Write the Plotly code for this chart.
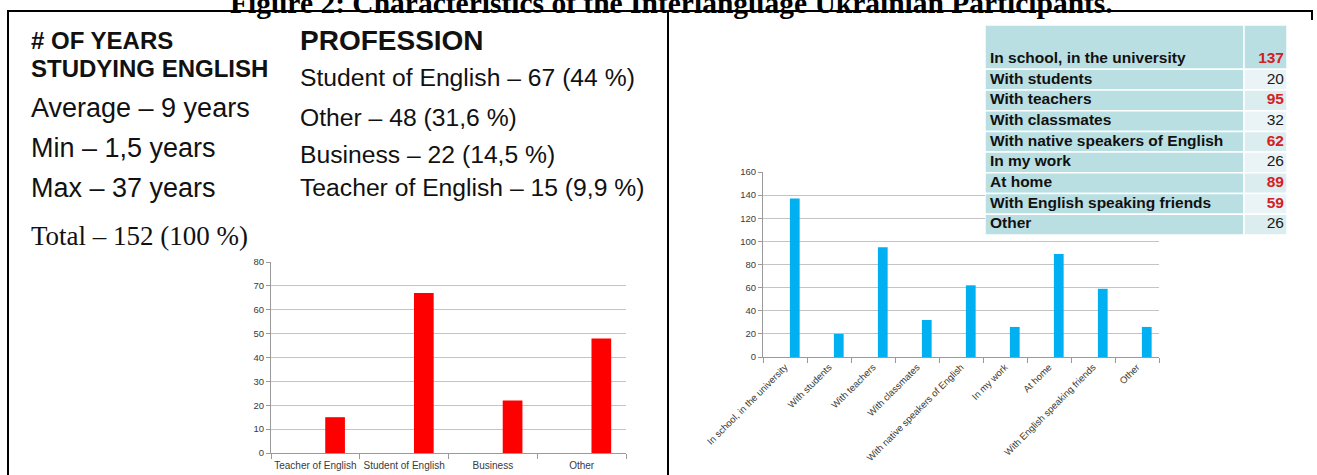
import plotly.graph_objects as go

W, H = 1317, 475

# ---------------- data ----------------
profession_categories = ["Teacher of English", "Student of English", "Business", "Other"]
profession_counts = [15, 67, 22, 48]

place_categories = [
    "In school, in the university", "With students", "With teachers", "With classmates",
    "With native speakers of English", "In my work", "At home",
    "With English speaking friends", "Other",
]
place_counts = [137, 20, 95, 32, 62, 26, 89, 59, 26]
place_highlight = [True, False, True, False, True, False, True, True, False]

years_heading = ["# OF YEARS", "STUDYING ENGLISH"]
years_stats = ["Average – 9 years", "Min – 1,5 years", "Max – 37 years"]
total_text = "Total – 152 (100 %)"
profession_heading = "PROFESSION"
profession_lines = [
    "Student of English – 67 (44 %)",
    "Other – 48 (31,6 %)",
    "Business – 22 (14,5 %)",
    "Teacher of English – 15 (9,9 %)",
]
title_text = "Figure 2: Characteristics of the Interlanguage Ukrainian Participants."


def fx(p):
    return p / W


def fy(p):
    return 1 - p / H


fig = go.Figure()

# left bar chart (profession)
fig.add_trace(go.Bar(
    x=profession_categories, y=profession_counts,
    marker=dict(color="#ff0000", line=dict(width=0)),
    width=0.222, offset=0.111,
    xaxis="x", yaxis="y", showlegend=False, hoverinfo="skip",
))

# right bar chart (where English is used)
fig.add_trace(go.Bar(
    x=place_categories, y=place_counts,
    marker=dict(color="#00b0f0", line=dict(width=0)),
    width=0.222, offset=0.111,
    xaxis="x2", yaxis="y2", showlegend=False, hoverinfo="skip",
))

# ---------------- table drawn on its own axes ----------------
label_col_w, num_col_w = 259, 43          # column widths (table units)
header_h, row_h = 44.3, 20.7              # row heights (table units)
n = len(place_categories)
row_heights = [header_h] + [row_h] * (n - 1)
row_centers = []
acc = 0.0
for h in row_heights:
    row_centers.append(acc + h / 2)
    acc += h
table_h = acc

label_fill = ["#b9dfe3"] * n
num_fill = ["#b9dfe3"] + [("#eaf4f6" if i % 2 == 0 else "#dcedf0") for i in range(n - 1)]

for base, wcol, fills in [(0, label_col_w, label_fill), (label_col_w, num_col_w, num_fill)]:
    fig.add_trace(go.Bar(
        orientation="h", y=row_centers, x=[wcol] * n, base=[base] * n,
        width=row_heights, offset=[-h / 2 for h in row_heights],
        marker=dict(color=fills, line=dict(color="white", width=1.5)),
        xaxis="x3", yaxis="y3", showlegend=False, hoverinfo="skip",
    ))

text_y = [header_h - 10] + row_centers[1:]
fig.add_trace(go.Scatter(
    x=[5] * n, y=text_y, mode="text",
    text=["<b>%s</b>" % c for c in place_categories],
    textposition="middle right",
    textfont=dict(family="Liberation Sans", size=15.5, color="#111111"),
    xaxis="x3", yaxis="y3", showlegend=False, hoverinfo="skip",
))
fig.add_trace(go.Scatter(
    x=[label_col_w + num_col_w - 3] * n, y=text_y, mode="text",
    text=[("<b>%d</b>" % v) if h else str(v) for v, h in zip(place_counts, place_highlight)],
    textposition="middle left",
    textfont=dict(family="Liberation Sans", size=15.5,
                  color=["#d42020" if h else "#1a1a1a" for h in place_highlight]),
    xaxis="x3", yaxis="y3", showlegend=False, hoverinfo="skip",
))

axis_font = dict(family="Liberation Sans", size=9.5, color="#3a3a3a")
fig.update_layout(
    width=W, height=H, autosize=False,
    margin=dict(l=0, r=0, t=0, b=0, pad=0),
    paper_bgcolor="white", plot_bgcolor="white",
    barmode="overlay",
    xaxis=dict(domain=[fx(271), fx(626)], anchor="y", type="category", automargin=False,
               range=[-0.5, 3.5], showgrid=False, showline=True,
               linecolor="#9a9a9a", ticks="outside", tickson="boundaries",
               ticklen=5, tickcolor="#9a9a9a", tickangle=0, ticklabelstandoff=3,
               tickfont=dict(family="Liberation Sans", size=10, color="#3a3a3a")),
    yaxis=dict(domain=[fy(453), fy(262)], anchor="x", range=[0, 80], dtick=10, automargin=False,
               showgrid=True, gridcolor="#c4c4c4", zeroline=False,
               showline=True, linecolor="#9a9a9a", ticks="outside", ticklen=4,
               tickcolor="#9a9a9a", tickfont=axis_font),
    xaxis2=dict(domain=[fx(763), fx(1159)], anchor="y2", type="category", automargin=False,
                range=[-0.5, 8.5], showgrid=False, showline=True,
                linecolor="#9a9a9a", ticks="outside", tickson="boundaries",
                ticklen=5, tickcolor="#9a9a9a", tickangle=-45, tickfont=axis_font),
    yaxis2=dict(domain=[fy(357), fy(172)], anchor="x2", range=[0, 160], dtick=20, automargin=False,
                showgrid=True, gridcolor="#c4c4c4", zeroline=False,
                showline=True, linecolor="#9a9a9a", ticks="outside", ticklen=4,
                tickcolor="#9a9a9a", tickfont=axis_font),
    xaxis3=dict(domain=[fx(985), fx(1287)], anchor="y3", range=[0, label_col_w + num_col_w],
                visible=False, automargin=False, fixedrange=True),
    yaxis3=dict(domain=[fy(25 + table_h), fy(25)], anchor="x3", range=[table_h, 0],
                visible=False, automargin=False, fixedrange=True),
)

ann = []
ann.append(dict(text="<b>%s</b>" % title_text, x=fx(671), y=fy(21), xref="paper", yref="paper",
                xanchor="center", yanchor="bottom", showarrow=False,
                font=dict(family="Liberation Serif", size=29.5, color="black")))

left_x = fx(29)
for txt, yc in zip(years_heading, [40, 68]):
    ann.append(dict(text="<b>%s</b>" % txt, x=left_x, y=fy(yc), xref="paper", yref="paper",
                    xanchor="left", yanchor="middle", showarrow=False,
                    font=dict(family="Liberation Sans", size=24, color="#111111")))
for txt, yc in zip(years_stats, [108, 148, 188]):
    ann.append(dict(text=txt, x=left_x, y=fy(yc), xref="paper", yref="paper",
                    xanchor="left", yanchor="middle", showarrow=False,
                    font=dict(family="Liberation Sans", size=27, color="#111111")))
ann.append(dict(text=total_text, x=left_x, y=fy(236), xref="paper", yref="paper",
                xanchor="left", yanchor="middle", showarrow=False,
                font=dict(family="Liberation Serif", size=27, color="#111111")))

mid_x = fx(298)
ann.append(dict(text="<b>%s</b>" % profession_heading, x=mid_x, y=fy(40), xref="paper", yref="paper",
                xanchor="left", yanchor="middle", showarrow=False,
                font=dict(family="Liberation Sans", size=28, color="#111111")))
for txt, yc in zip(profession_lines, [77, 117, 154, 187]):
    ann.append(dict(text=txt, x=mid_x, y=fy(yc), xref="paper", yref="paper",
                    xanchor="left", yanchor="middle", showarrow=False,
                    font=dict(family="Liberation Sans", size=24.7, color="#111111")))
fig.update_layout(annotations=ann)

line = dict(color="black", width=2)
shapes = [
    dict(type="line", xref="paper", yref="paper", x0=fx(7), x1=fx(1313), y0=fy(11), y1=fy(11), line=line),
    dict(type="line", xref="paper", yref="paper", x0=fx(8), x1=fx(8), y0=fy(11), y1=fy(475), line=line),
    dict(type="line", xref="paper", yref="paper", x0=fx(668), x1=fx(668), y0=fy(11), y1=fy(475), line=line),
    dict(type="line", xref="paper", yref="paper", x0=fx(1312), x1=fx(1312), y0=fy(11), y1=fy(20), line=line),
]
fig.update_layout(shapes=shapes)

fig.write_html("out.html", config={"displayModeBar": False},
               post_script="document.body.style.margin='0';")
